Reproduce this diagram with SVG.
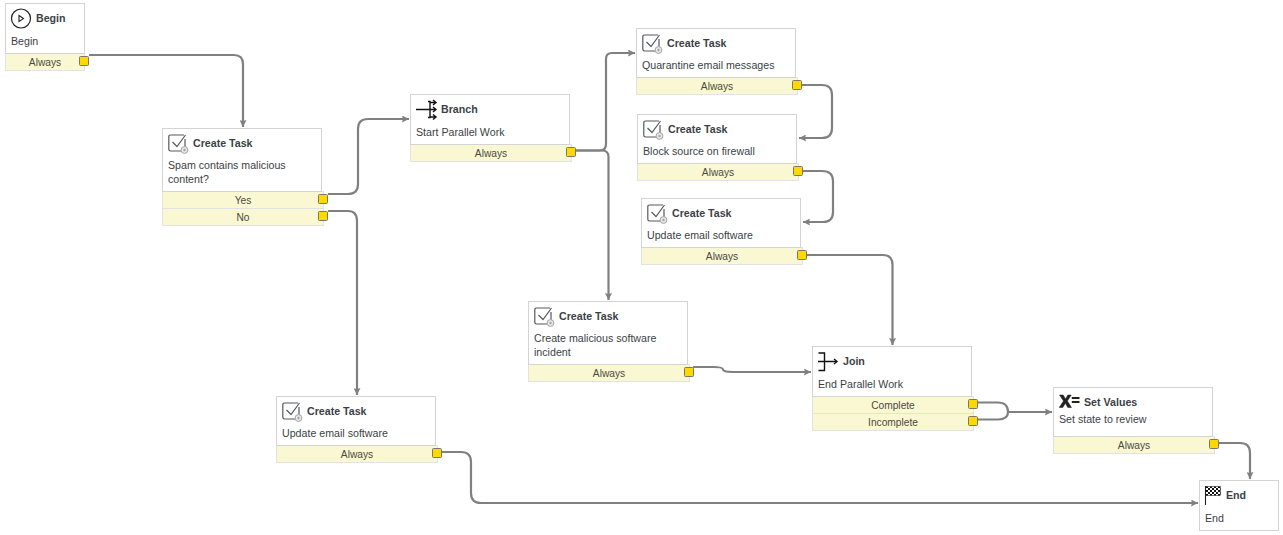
<svg xmlns="http://www.w3.org/2000/svg" xmlns:xlink="http://www.w3.org/1999/xlink" width="1283" height="535" viewBox="0 0 1283 535">
<style>
text{font-family:"Liberation Sans",Arial,sans-serif;font-size:10.65px;fill:#3b3f45}
.t{font-weight:bold}
.f{font-size:10.2px;text-anchor:middle;fill:#4a4a42}
.b{fill:#fff;stroke:#d4d4d4;stroke-width:1}
.r{fill:#faf8d2;stroke:#e2e2e2;stroke-width:1}
.h{fill:#ffd800;stroke:#77776a;stroke-width:1}
.c{fill:none;stroke:#808080;stroke-width:2.2;marker-end:url(#a)}
.n{fill:none;stroke:#808080;stroke-width:2.2}
.i{fill:none;stroke:#55585c;stroke-width:1.2}
.k{fill:none;stroke:#111;stroke-width:1.4}
</style>
<defs>
<marker id="a" markerUnits="userSpaceOnUse" markerWidth="8" markerHeight="7" refX="7" refY="3.500" orient="auto"><path d="M0 0L7 3.500L0 7L1 3.500Z" fill="#808080"/></marker>
<pattern id="ck" width="4" height="4" patternUnits="userSpaceOnUse"><rect width="4" height="4" fill="#fff"/><rect width="2" height="2" fill="#111"/><rect x="2" y="2" width="2" height="2" fill="#111"/></pattern>
<g id="task"><path class="i" d="M16 1H2.500Q.8 1 .8 2.700V15.300Q.8 17 2.500 17H13M4.500 8L9 12.500L17.500 1"/><path class="i" d="M17 5V13"/><circle cx="16.500" cy="16" r="3.400" fill="#e8e8e8" stroke="#a5a5a5" stroke-width="1"/><circle cx="16.500" cy="16" r="1.200" fill="#a5a5a5"/></g>
</defs>

<g id="connectors">
<path class="c" d="M89 55H234Q243 55 243 64V127"/>
<path class="c" d="M328 194H348Q358 194 358 184V129Q358 119 368 119H409"/>
<path class="c" d="M328 211H348Q357 211 357 221V395"/>
<path class="c" d="M576 150.500H600Q606 150.500 606 144V59Q606 53 612 53H635"/>
<path class="c" d="M576 150.500H602Q608.500 150.500 608.500 157V300"/>
<path class="c" d="M802 85H822Q832 85 832 95V128Q832 138 822 138H799"/>
<path class="c" d="M802 171H822Q833 171 833 181V212Q833 222 823 222H803"/>
<path class="c" d="M806 255H883Q892.500 255 892.500 265V345"/>
<path class="c" d="M693 367H713Q723 367 723 369.500Q723 372 733 372H811"/>
<path class="n" d="M978 402.500H998Q1008 402.500 1008 412"/>
<path class="n" d="M978 419.500H998Q1008 419.500 1008 412"/>
<path class="c" d="M1007 412H1052"/>
<path class="c" d="M1218 443H1240Q1250 443 1250 453V479"/>
<path class="c" d="M442 452H461Q471 452 471 462V493Q471 503 481 503H1198"/>
</g>

<g id="begin">
<rect class="r" x="5.500" y="53.500" width="79" height="17"/><rect class="b" x="5.500" y="3.500" width="79" height="50"/>
<circle cx="21" cy="18.500" r="9.500" fill="none" stroke="#222" stroke-width="1.200"/><path d="M19 15.500L23.500 18.500L19 21.500Z" fill="none" stroke="#222" stroke-width="1.100"/>
<text class="t" x="36" y="22">Begin</text><text x="11" y="45">Begin</text><text class="f" x="45" y="66">Always</text>
<rect class="h" x="79.500" y="56.500" width="9" height="9" rx="1"/>
</g>

<g id="task-spam">
<rect class="r" x="162.500" y="191.500" width="161" height="17"/><rect class="r" x="162.500" y="208.500" width="161" height="17"/><rect class="b" x="162.500" y="128.500" width="159" height="63"/>
<use xlink:href="#task" href="#task" x="168" y="134"/>
<text class="t" x="193" y="147">Create Task</text><text x="168" y="169">Spam contains malicious</text><text x="168" y="183">content?</text>
<text class="f" x="243" y="204">Yes</text><text class="f" x="243" y="221">No</text>
<rect class="h" x="318.500" y="194.500" width="9" height="9" rx="1"/><rect class="h" x="318.500" y="211.500" width="9" height="9" rx="1"/>
</g>

<g id="branch">
<rect class="r" x="410.500" y="144.500" width="161" height="17"/><rect class="b" x="410.500" y="94.500" width="159" height="50"/>
<path class="k" d="M416 109.500H430M428 101.500H430V117.500H428"/><path class="k" d="M433 100L436 102.500L433 105M433 107L436 109.500L433 112M433 114.500L436 117L433 119.500M430 102.500H436M430 109.500H436M430 117H436" stroke-width="1.100"/>
<text class="t" x="441" y="113">Branch</text><text x="416" y="136">Start Parallel Work</text><text class="f" x="491" y="157">Always</text>
<rect class="h" x="566.500" y="147.500" width="9" height="9" rx="1"/>
</g>

<g id="task-quarantine">
<rect class="r" x="636.500" y="77.500" width="161" height="17"/><rect class="b" x="636.500" y="28.500" width="159" height="49"/>
<use xlink:href="#task" href="#task" x="642" y="34"/>
<text class="t" x="667" y="47">Create Task</text><text x="642" y="69">Quarantine email messages</text><text class="f" x="717" y="90">Always</text>
<rect class="h" x="792.500" y="80.500" width="9" height="9" rx="1"/>
</g>

<g id="task-block">
<rect class="r" x="637.500" y="163.500" width="161" height="17"/><rect class="b" x="637.500" y="114.500" width="159" height="49"/>
<use xlink:href="#task" href="#task" x="643" y="120"/>
<text class="t" x="668" y="133">Create Task</text><text x="643" y="155">Block source on firewall</text><text class="f" x="718" y="176">Always</text>
<rect class="h" x="793.500" y="166.500" width="9" height="9" rx="1"/>
</g>

<g id="task-update-1">
<rect class="r" x="641.500" y="247.500" width="161" height="17"/><rect class="b" x="641.500" y="198.500" width="159" height="49"/>
<use xlink:href="#task" href="#task" x="647" y="204"/>
<text class="t" x="672" y="217">Create Task</text><text x="647" y="239">Update email software</text><text class="f" x="722" y="260">Always</text>
<rect class="h" x="797.500" y="250.500" width="9" height="9" rx="1"/>
</g>

<g id="task-incident">
<rect class="r" x="528.500" y="364.500" width="161" height="17"/><rect class="b" x="528.500" y="301.500" width="159" height="63"/>
<use xlink:href="#task" href="#task" x="534" y="307"/>
<text class="t" x="559" y="320">Create Task</text><text x="534" y="342">Create malicious software</text><text x="534" y="356">incident</text><text class="f" x="609" y="377">Always</text>
<rect class="h" x="684.500" y="367.500" width="9" height="9" rx="1"/>
</g>

<g id="task-update-2">
<rect class="r" x="276.500" y="445.500" width="161" height="17"/><rect class="b" x="276.500" y="396.500" width="159" height="49"/>
<use xlink:href="#task" href="#task" x="282" y="402"/>
<text class="t" x="307" y="415">Create Task</text><text x="282" y="437">Update email software</text><text class="f" x="357" y="458">Always</text>
<rect class="h" x="432.500" y="448.500" width="9" height="9" rx="1"/>
</g>

<g id="join">
<rect class="r" x="812.500" y="396.500" width="161" height="17"/><rect class="r" x="812.500" y="413.500" width="161" height="17"/><rect class="b" x="812.500" y="346.500" width="159" height="50"/>
<path class="k" d="M818.500 353H824.500V370.500H818.500M818 361.500H836"/><path class="k" d="M834 359L837 361.500L834 364" stroke-width="1.100"/>
<text class="t" x="843" y="365">Join</text><text x="818" y="388">End Parallel Work</text>
<text class="f" x="893" y="409">Complete</text><text class="f" x="893" y="426">Incomplete</text>
<rect class="h" x="968.500" y="399.500" width="9" height="9" rx="1"/><rect class="h" x="968.500" y="416.500" width="9" height="9" rx="1"/>
</g>

<g id="set-values">
<rect class="r" x="1053.500" y="436.500" width="161" height="17"/><rect class="b" x="1053.500" y="387.500" width="159" height="49"/>
<path d="M1059.500 395H1063.200L1065.500 399L1067.800 395H1071.200L1067.400 401L1071.500 407.500H1067.800L1065.300 403.200L1062.800 407.500H1059.200L1063.500 401Z" fill="#222" stroke="#222" stroke-width=".5"/><path d="M1071.800 398H1079.500M1071.800 402H1079.500" stroke="#222" stroke-width="1.800"/>
<text class="t" x="1084" y="406">Set Values</text><text x="1059" y="423">Set state to review</text><text class="f" x="1134" y="449">Always</text>
<rect class="h" x="1209.500" y="439.500" width="9" height="9" rx="1"/>
</g>

<g id="end">
<rect class="b" x="1199.500" y="480.500" width="79" height="50"/>
<rect x="1205.500" y="486.500" width="15" height="9" fill="url(#ck)" stroke="#222" stroke-width=".6"/><path d="M1205.500 486V505" stroke="#222" stroke-width="1.100"/>
<text class="t" x="1226" y="499">End</text><text x="1205" y="522">End</text>
</g>
</svg>
